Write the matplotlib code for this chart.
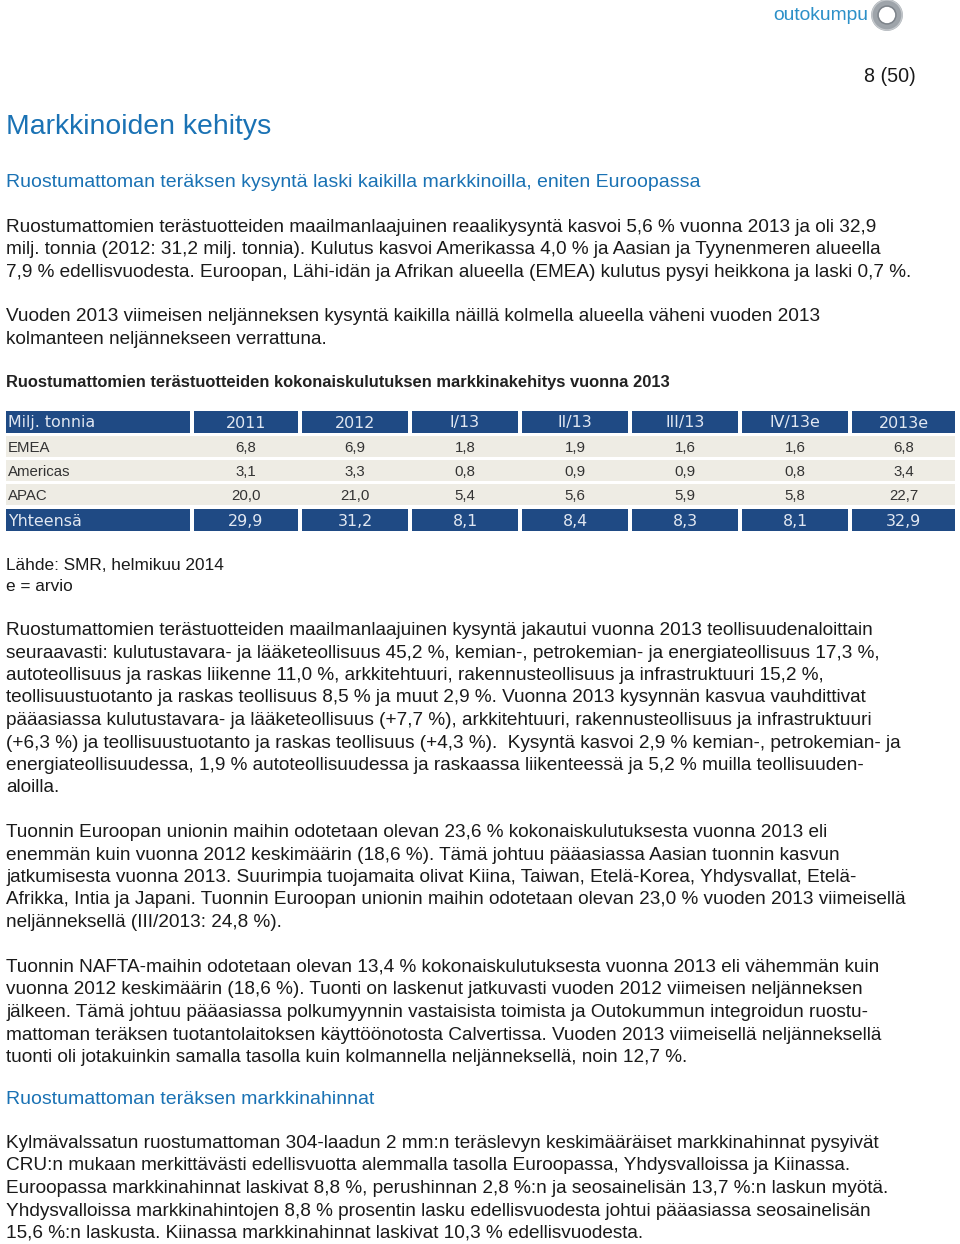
import matplotlib.pyplot as plt
from matplotlib.patches import Rectangle, Circle

# table data
columns = ['2011', '2012', 'I/13', 'II/13', 'III/13', 'IV/13e', '2013e']
regions = ['EMEA', 'Americas', 'APAC']
emea = [6.8, 6.9, 1.8, 1.9, 1.6, 1.6, 6.8]
americas = [3.1, 3.3, 0.8, 0.9, 0.9, 0.8, 3.4]
apac = [20.0, 21.0, 5.4, 5.6, 5.9, 5.8, 22.7]
total = [29.9, 31.2, 8.1, 8.4, 8.3, 8.1, 32.9]

para1 = [
    "Ruostumattomien terästuotteiden maailmanlaajuinen reaalikysyntä kasvoi 5,6 % vuonna 2013 ja oli 32,9",
    "milj. tonnia (2012: 31,2 milj. tonnia). Kulutus kasvoi Amerikassa 4,0 % ja Aasian ja Tyynenmeren alueella",
    "7,9 % edellisvuodesta. Euroopan, Lähi-idän ja Afrikan alueella (EMEA) kulutus pysyi heikkona ja laski 0,7 %.",
]
para2 = [
    "Vuoden 2013 viimeisen neljänneksen kysyntä kaikilla näillä kolmella alueella väheni vuoden 2013",
    "kolmanteen neljännekseen verrattuna.",
]
para3 = [
    "Ruostumattomien terästuotteiden maailmanlaajuinen kysyntä jakautui vuonna 2013 teollisuudenaloittain",
    "seuraavasti: kulutustavara- ja lääketeollisuus 45,2 %, kemian-, petrokemian- ja energiateollisuus 17,3 %,",
    "autoteollisuus ja raskas liikenne 11,0 %, arkkitehtuuri, rakennusteollisuus ja infrastruktuuri 15,2 %,",
    "teollisuustuotanto ja raskas teollisuus 8,5 % ja muut 2,9 %. Vuonna 2013 kysynnän kasvua vauhdittivat",
    "pääasiassa kulutustavara- ja lääketeollisuus (+7,7 %), arkkitehtuuri, rakennusteollisuus ja infrastruktuuri",
    "(+6,3 %) ja teollisuustuotanto ja raskas teollisuus (+4,3 %).  Kysyntä kasvoi 2,9 % kemian-, petrokemian- ja",
    "energiateollisuudessa, 1,9 % autoteollisuudessa ja raskaassa liikenteessä ja 5,2 % muilla teollisuuden-",
    "aloilla.",
]
para4 = [
    "Tuonnin Euroopan unionin maihin odotetaan olevan 23,6 % kokonaiskulutuksesta vuonna 2013 eli",
    "enemmän kuin vuonna 2012 keskimäärin (18,6 %). Tämä johtuu pääasiassa Aasian tuonnin kasvun",
    "jatkumisesta vuonna 2013. Suurimpia tuojamaita olivat Kiina, Taiwan, Etelä-Korea, Yhdysvallat, Etelä-",
    "Afrikka, Intia ja Japani. Tuonnin Euroopan unionin maihin odotetaan olevan 23,0 % vuoden 2013 viimeisellä",
    "neljänneksellä (III/2013: 24,8 %).",
]
para5 = [
    "Tuonnin NAFTA-maihin odotetaan olevan 13,4 % kokonaiskulutuksesta vuonna 2013 eli vähemmän kuin",
    "vuonna 2012 keskimäärin (18,6 %). Tuonti on laskenut jatkuvasti vuoden 2012 viimeisen neljänneksen",
    "jälkeen. Tämä johtuu pääasiassa polkumyynnin vastaisista toimista ja Outokummun integroidun ruostu-",
    "mattoman teräksen tuotantolaitoksen käyttöönotosta Calvertissa. Vuoden 2013 viimeisellä neljänneksellä",
    "tuonti oli jotakuinkin samalla tasolla kuin kolmannella neljänneksellä, noin 12,7 %.",
]
para6 = [
    "Kylmävalssatun ruostumattoman 304-laadun 2 mm:n teräslevyn keskimääräiset markkinahinnat pysyivät",
    "CRU:n mukaan merkittävästi edellisvuotta alemmalla tasolla Euroopassa, Yhdysvalloissa ja Kiinassa.",
    "Euroopassa markkinahinnat laskivat 8,8 %, perushinnan 2,8 %:n ja seosainelisän 13,7 %:n laskun myötä.",
    "Yhdysvalloissa markkinahintojen 8,8 % prosentin lasku edellisvuodesta johtui pääasiassa seosainelisän",
    "15,6 %:n laskusta. Kiinassa markkinahinnat laskivat 10,3 % edellisvuodesta.",
]

BLUE = '#1a72b4'
NAVY = '#1f4a84'
BEIGE = '#eeece4'
TXT = '#1a1a1a'
BODY = dict(fontsize=13.7, family='Liberation Sans', color=TXT, va='center', ha='left')
SMALL = dict(BODY, fontsize=12.4)
DY = 2.5  # small downward nudge for all text lines

fig = plt.figure(figsize=(9.6, 12.44), dpi=100)
ax = fig.add_axes([0, 0, 1, 1])
ax.set_xlim(0, 960)
ax.set_ylim(1244, 0)
ax.axis('off')


def paragraph(lines, y0, step=22.5):
    for i, line in enumerate(lines):
        ax.text(6, y0 + DY + i * step, line, **BODY)


# logo + page number
ax.text(773, 16, 'outokumpu', fontsize=13.9, family='Liberation Sans', color='#2c90c8', va='center')
ax.add_patch(Circle((887, 15), 12, fill=False, lw=5.5, ec='#9ea4aa'))
ax.add_patch(Circle((887, 15), 15, fill=False, lw=1, ec='#c4c8cc'))
ax.add_patch(Circle((887, 15), 9, fill=False, lw=1, ec='#7d838a'))
ax.text(916, 74 + DY, '8 (50)', fontsize=14.2, family='Liberation Sans', color=TXT, va='center', ha='right')

ax.text(6, 125 + DY, 'Markkinoiden kehitys', fontsize=20.4, family='Liberation Sans', color=BLUE,
        va='center')
ax.text(6, 180 + DY, 'Ruostumattoman teräksen kysyntä laski kaikilla markkinoilla, eniten Euroopassa',
        fontsize=14.0, family='Liberation Sans', color=BLUE, va='center')

paragraph(para1, 225)
paragraph(para2, 314)

ax.text(6, 380 + DY, 'Ruostumattomien terästuotteiden kokonaiskulutuksen markkinakehitys vuonna 2013',
        fontsize=11.9, family='Liberation Sans', weight='bold', color='#222222', va='center')

# table
col_x = [6, 194, 302, 412, 522, 632, 742, 852]
col_r = [190, 298, 408, 518, 628, 738, 848, 955]
rows = [('Milj. tonnia', columns, 411, 433, True)]
for name, vals, y in zip(regions, [emea, americas, apac], [436, 460, 484]):
    rows.append((name, ['{:.1f}'.format(v).replace('.', ',') for v in vals], y, y + 21, False))
rows.append(('Yhteensä', ['{:.1f}'.format(v).replace('.', ',') for v in total], 509, 531, True))

for label, cells, y1, y2, dark in rows:
    yc = (y1 + y2) / 2 + 1
    if dark:
        for x1, x2 in zip(col_x, col_r):
            ax.add_patch(Rectangle((x1, y1), x2 - x1, y2 - y1, fc=NAVY, ec='none'))
        kw = dict(fontsize=11.4, family='DejaVu Sans', color='#e2e8f2', va='center')
    else:
        ax.add_patch(Rectangle((6, y1), 955 - 6, y2 - y1, fc=BEIGE, ec='none'))
        kw = dict(fontsize=10.8, family='Liberation Sans', color='#333333', va='center')
    ax.text(col_x[0] + 2, yc, label, ha='left', **kw)
    for x1, x2, c in zip(col_x[1:], col_r[1:], cells):
        ax.text((x1 + x2) / 2, yc, c, ha='center', **kw)

ax.text(6, 563 + DY, 'Lähde: SMR, helmikuu 2014', **SMALL)
ax.text(6, 584 + DY, 'e = arvio', **SMALL)

paragraph(para3, 628)
paragraph(para4, 830)
paragraph(para5, 965)
ax.text(6, 1097 + DY, 'Ruostumattoman teräksen markkinahinnat', fontsize=14.0, family='Liberation Sans',
        color=BLUE, va='center')
paragraph(para6, 1141)

fig.savefig('out.png', dpi=100)
